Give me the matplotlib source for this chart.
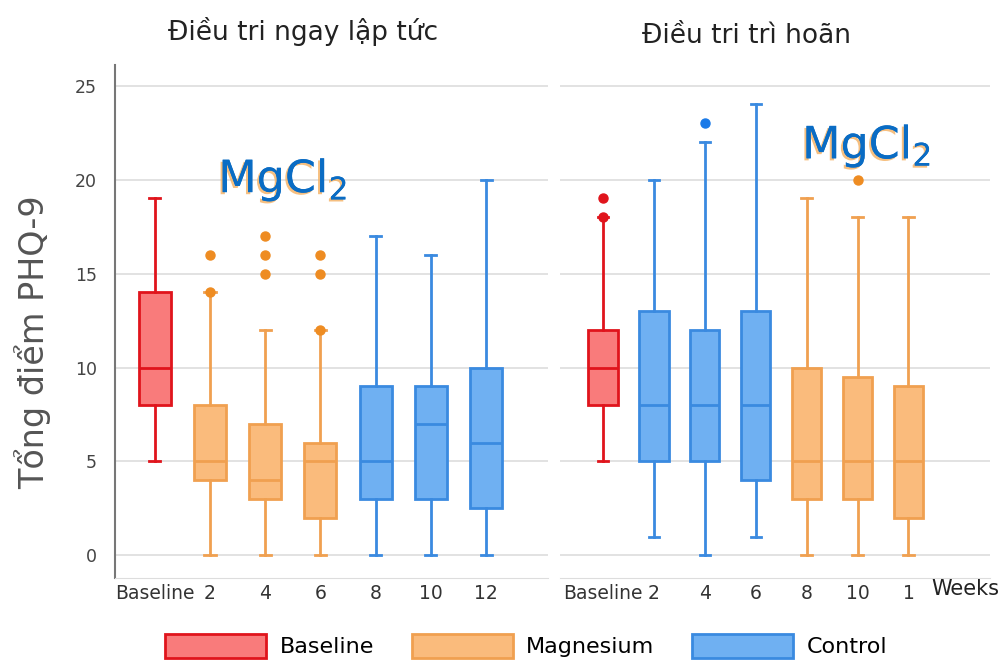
import numpy as np
import matplotlib.pyplot as plt
import matplotlib.patheffects as pe
from matplotlib.patches import Patch

plt.rcParams['font.family'] = ['DejaVu Sans']

# immediate treatment panel
left_labels = ['Baseline', '2', '4', '6', '8', '10', '12']
left_group = ['Baseline', 'Magnesium', 'Magnesium', 'Magnesium', 'Control', 'Control', 'Control']
left_whislo = [5, 0, 0, 0, 0, 0, 0]
left_q1 = [8, 4, 3, 2, 3, 3, 2.5]
left_med = [10, 5, 4, 5, 5, 7, 6]
left_q3 = [14, 8, 7, 6, 9, 9, 10]
left_whishi = [19, 14, 12, 12, 17, 16, 20]
left_fliers = [[], [14, 16], [15, 16, 17], [12, 15, 16], [], [], []]

# delayed treatment panel
right_labels = ['Baseline', '2', '4', '6', '8', '10', '1']
right_group = ['Baseline', 'Control', 'Control', 'Control', 'Magnesium', 'Magnesium', 'Magnesium']
right_whislo = [5, 1, 0, 1, 0, 0, 0]
right_q1 = [8, 5, 5, 4, 3, 3, 2]
right_med = [10, 8, 8, 8, 5, 5, 5]
right_q3 = [12, 13, 12, 13, 10, 9.5, 9]
right_whishi = [18, 20, 22, 24, 19, 18, 18]
right_fliers = [[18, 19], [], [23], [], [], [20], []]

yticks = [0, 5, 10, 15, 20, 25]

edge = {'Baseline': '#e0141c', 'Magnesium': '#f0a050', 'Control': '#3a8ae0'}
face = {'Baseline': '#f97b7b', 'Magnesium': '#fabb7c', 'Control': '#6fb0f2'}
flier_col = {'Baseline': '#e0141c', 'Magnesium': '#ee8c22', 'Control': '#1a7ae8'}

fig = plt.figure(figsize=(10.05, 6.61), dpi=100)
ax1 = fig.add_axes([115 / 1005, 1 - 578 / 661, 433 / 1005, 513 / 661])
ax2 = fig.add_axes([560 / 1005, 1 - 578 / 661, 430 / 1005, 513 / 661])


def draw_panel(ax, labels, groups, lo, q1, med, q3, hi, fliers, xlim):
    for i in range(len(labels)):
        st = [{'whislo': lo[i], 'q1': q1[i], 'med': med[i], 'q3': q3[i],
               'whishi': hi[i], 'fliers': fliers[i]}]
        g = groups[i]
        c = edge[g]
        ax.bxp(st, positions=[i], widths=0.58, showfliers=True, patch_artist=True,
               boxprops=dict(facecolor=face[g], edgecolor=c, linewidth=2),
               medianprops=dict(color=c, linewidth=2),
               whiskerprops=dict(color=c, linewidth=2),
               capprops=dict(color=c, linewidth=2),
               capwidths=0.2,
               flierprops=dict(marker='o', markerfacecolor=flier_col[g],
                               markeredgecolor=flier_col[g], markersize=6.5))
    ax.set_xlim(*xlim)
    ax.set_ylim(-1.2, 26.1)
    ax.set_yticks(yticks)
    ax.set_xticks(range(len(labels)))
    ax.set_xticklabels(labels, fontsize=13.5, color='#333333')
    ax.grid(axis='y', color='#dddddd', linewidth=1.2)
    ax.set_axisbelow(True)
    ax.tick_params(axis='x', length=0, pad=4)
    for s in ['top', 'right']:
        ax.spines[s].set_visible(False)
    ax.spines['bottom'].set_color('#dddddd')


draw_panel(ax1, left_labels, left_group, left_whislo, left_q1, left_med,
           left_q3, left_whishi, left_fliers, (-0.72, 7.12))
draw_panel(ax2, right_labels, right_group, right_whislo, right_q1, right_med,
           right_q3, right_whishi, right_fliers, (-0.84, 7.6))

ax1.spines['left'].set_color('#777777')
ax1.spines['left'].set_linewidth(1.5)
ax1.tick_params(axis='y', length=0, labelsize=12.5, labelcolor='#444444', pad=13)
ax2.spines['left'].set_visible(False)
ax2.tick_params(axis='y', length=0, labelleft=False)

ax1.set_ylabel('Tổng điểm PHQ-9', fontsize=24, color='#555555')
ax1.yaxis.set_label_coords(-0.148, 0.46)

fig.text(303 / 1005, 1 - 32 / 661, 'Điều tri ngay lập tức', fontsize=19,
         color='#222222', ha='center', va='center')
fig.text(746 / 1005, 1 - 36 / 661, 'Điều tri trì hoãn', fontsize=19,
         color='#222222', ha='center', va='center')
fig.text(965 / 1005, 1 - 589 / 661, 'Weeks', fontsize=15, color='#222222',
         ha='center', va='center')

shadow = [pe.withSimplePatchShadow(offset=(-1.5, -1.5), shadow_rgbFace='#f4b060', alpha=0.8),
          pe.Normal()]
ax1.text(2.32, 20.0, r'MgCl$_2$', fontsize=32, color='#0a6cc4', ha='center',
         va='center', path_effects=shadow)
ax2.text(5.18, 21.8, r'MgCl$_2$', fontsize=32, color='#0a6cc4', ha='center',
         va='center', path_effects=shadow)

handles = [Patch(facecolor=face[g], edgecolor=edge[g], linewidth=2, label=g)
           for g in ['Baseline', 'Magnesium', 'Control']]
fig.legend(handles=handles, loc='center', bbox_to_anchor=(526 / 1005, 1 - 646 / 661),
           ncol=3, frameon=False, fontsize=16, handlelength=4.55, handleheight=1.3,
           columnspacing=1.7, handletextpad=0.6)

fig.savefig('out.png', dpi=100)
